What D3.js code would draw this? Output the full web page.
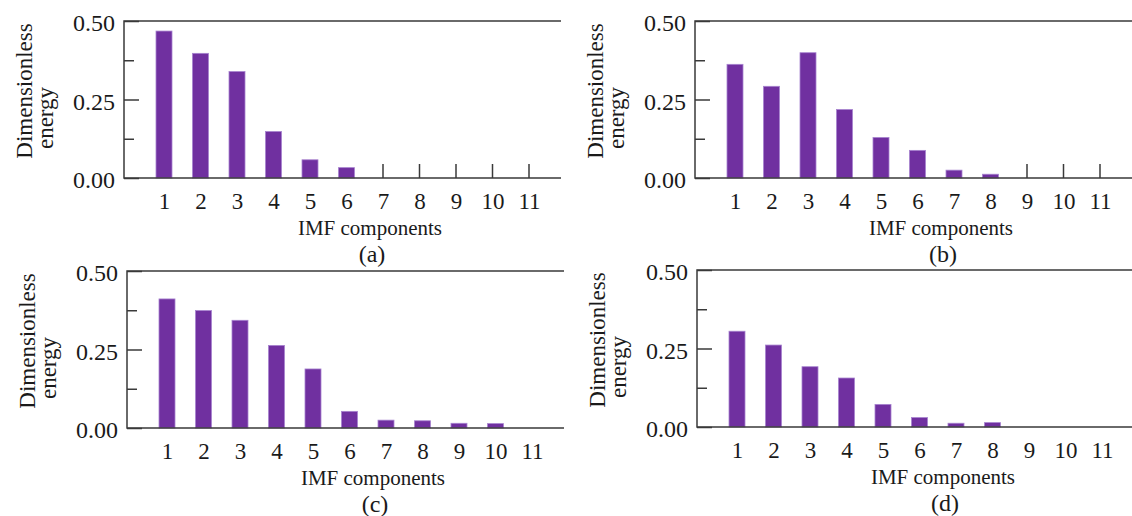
<!DOCTYPE html>
<html lang="en">
<head>
<meta charset="UTF-8">
<title>IMF energy</title>
<script src="https://cdn.jsdelivr.net/npm/d3@7"></script>
<style>
    body { margin: 0; background: #fff; }
    svg { display: block; }
    text { font-family: "Liberation Serif", "Times New Roman", serif; fill: #1a1a1a; }
    .frame { stroke: #3a3a3a; stroke-width: 1.5; fill: none; }
    .axis line { stroke: #3a3a3a; stroke-width: 1.5; }
</style>
</head>
<body>
<script>
    // data
    var categories = [1, 2, 3, 4, 5, 6, 7, 8, 9, 10, 11]
    var energyA = [0.468, 0.397, 0.339, 0.148, 0.058, 0.033, 0, 0, 0, 0, 0]
    var energyB = [0.362, 0.292, 0.399, 0.218, 0.129, 0.088, 0.025, 0.012, 0, 0, 0]
    var energyC = [0.411, 0.374, 0.343, 0.263, 0.188, 0.053, 0.025, 0.023, 0.015, 0.014, 0]
    var energyD = [0.305, 0.261, 0.192, 0.156, 0.072, 0.030, 0.012, 0.014, 0, 0, 0]
    var yTicks = [0, 0.25, 0.5]
    var yMinorTicks = [0.125, 0.375]
    var panelNames = ["(a)", "(b)", "(c)", "(d)"]

    var width = 1132
    var height = 516
    var plotW = 437
    var plotH = 157
    var barW = 16
    var serif = '"Liberation Serif", "Times New Roman", serif'

    // panel placement
    var panels = [
        {values: energyA, name: panelNames[0], left: 124, top: 21, zeroTicks: true},
        {values: energyB, name: panelNames[1], left: 695, top: 21, zeroTicks: true},
        {values: energyC, name: panelNames[2], left: 127, top: 271, zeroTicks: false},
        {values: energyD, name: panelNames[3], left: 697, top: 270, zeroTicks: false}
    ]

    var svg = d3.select("body")
        .append("svg")
        .attr("width", width)
        .attr("height", height)

    var x = d3.scaleLinear().domain([1, 11]).range([40, 405])
    var y = d3.scaleLinear().domain([0, 0.5]).range([plotH, 0])

    panels.forEach(function(p) {
        var g = svg.append("g")
            .attr("transform", "translate(" + p.left + "," + p.top + ")")

        // minor ticks
        g.append("g")
            .attr("class", "axis")
            .call(d3.axisLeft(y).tickValues(yMinorTicks).tickSizeInner(-10).tickSizeOuter(0).tickFormat(""))
            .call(function(a) { a.select(".domain").remove() })

        // major ticks + labels
        var ya = g.append("g")
            .attr("class", "axis")
            .call(d3.axisLeft(y).tickValues(yTicks).tickSizeInner(-15).tickSizeOuter(0)
                .tickPadding(9).tickFormat(d3.format(".2f")))
            .attr("font-family", serif)
            .attr("font-size", 24)
        ya.select(".domain").remove()
        ya.selectAll("text")
            .attr("dy", "0.4em")

        // zero-value markers
        if (p.zeroTicks) {
            g.selectAll(".zt")
                .data(categories.filter(function(c, i) { return p.values[i] === 0 }))
                .enter()
                .append("line")
                .attr("class", "frame")
                .attr("x1", function(d) { return x(d) })
                .attr("x2", function(d) { return x(d) })
                .attr("y1", y(0))
                .attr("y2", y(0) - 14)
        }

        // bars
        g.selectAll("rect")
            .data(categories.filter(function(c, i) { return p.values[i] > 0 }))
            .enter()
            .append("rect")
            .attr("x", function(d) { return x(d) - barW / 2 })
            .attr("y", function(d) { return y(p.values[d - 1]) })
            .attr("width", barW)
            .attr("height", function(d) { return y(0) - y(p.values[d - 1]) })
            .attr("fill", "#7030a0")
            .attr("stroke", "#a783cf")
            .attr("stroke-width", 0.8)

        // frame: left, top, bottom
        g.append("path")
            .attr("class", "frame")
            .attr("d", "M" + plotW + "," + y(0.5) + "H0V" + y(0) + "H" + plotW)

        // x labels
        var xa = g.append("g")
            .attr("transform", "translate(0," + plotH + ")")
            .call(d3.axisBottom(x).tickValues(categories).tickSize(0).tickPadding(15))
            .attr("font-family", serif)
            .attr("font-size", 23)
        xa.select(".domain").remove()

        g.append("text")
            .attr("x", 246)
            .attr("y", plotH + 57)
            .attr("text-anchor", "middle")
            .style("font-size", "21px")
            .text("IMF components")

        g.append("text")
            .attr("x", 248)
            .attr("y", plotH + 84)
            .attr("text-anchor", "middle")
            .style("font-size", "24px")
            .text(p.name)

        // y title
        g.append("text")
            .attr("transform", "translate(-92," + 70 + ") rotate(-90)")
            .attr("text-anchor", "middle")
            .style("font-size", "23px")
            .text("Dimensionless")

        g.append("text")
            .attr("transform", "translate(-71," + 97 + ") rotate(-90)")
            .attr("text-anchor", "middle")
            .style("font-size", "23px")
            .text("energy")
    })
</script>
</body>
</html>
